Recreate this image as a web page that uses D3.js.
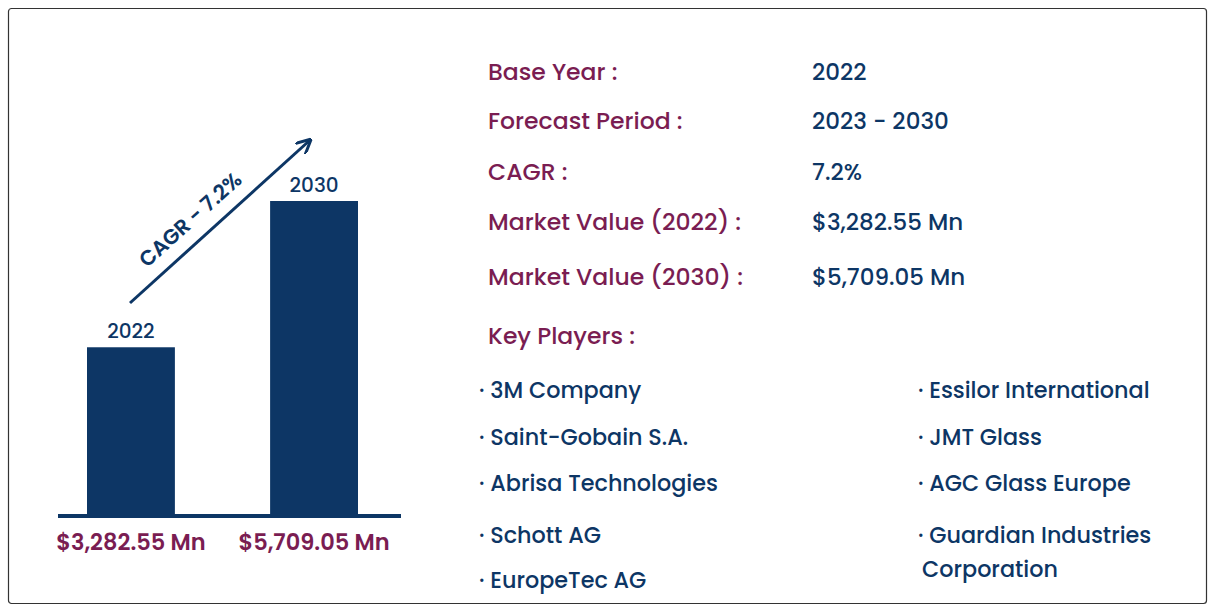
<!DOCTYPE html>
<html><head><meta charset="utf-8">
<script src="https://cdn.jsdelivr.net/npm/d3@7"></script>
<style>body{margin:0;background:#fff}</style>
</head><body><div id="chart"></div>
<script>
var years = ['2022', '2030'];
var values = [3282.55, 5709.05];
var valueLabels = ['$3,282.55 Mn', '$5,709.05 Mn'];
var infoLabels = ['Base Year :', 'Forecast Period :', 'CAGR :', 'Market Value (2022) :', 'Market Value (2030) :'];
var infoValues = ['2022', '2023 - 2030', '7.2%', '$3,282.55 Mn', '$5,709.05 Mn'];
var playersLeft = ['3M Company', 'Saint-Gobain S.A.', 'Abrisa Technologies', 'Schott AG', 'EuropeTec AG'];
var playersRight = ['Essilor International', 'JMT Glass', 'AGC Glass Europe', 'Guardian Industries'];

var navy = '#0d3665', maroon = '#7a1d52';
var font = 'Poppins, "Open Sans", sans-serif';

var svg = d3.select('#chart').append('svg')
    .attr('width', 1215).attr('height', 612)
    .style('font-family', font);

svg.append('rect')
    .attr('x', 8.5).attr('y', 8.5).attr('width', 1198).attr('height', 595)
    .attr('rx', 3).attr('fill', '#fff').attr('stroke', '#333').attr('stroke-width', 1.2);

// Bars
var scaleX = d3.scaleBand().domain(years).range([87, 358]).paddingInner(0.52).paddingOuter(0);
var scaleY = d3.scaleLinear().domain([500, values[1]]).range([515, 201]);

svg.selectAll('.bar').data(values).enter().append('rect')
    .attr('class', 'bar')
    .attr('x', function(d, i) { return scaleX(years[i]); })
    .attr('y', function(d) { return scaleY(d); })
    .attr('width', scaleX.bandwidth())
    .attr('height', function(d) { return 515 - scaleY(d); })
    .attr('fill', navy);

svg.append('line').attr('x1', 58).attr('x2', 401).attr('y1', 516).attr('y2', 516)
    .attr('stroke', navy).attr('stroke-width', 4);

svg.selectAll('.yr').data(values).enter().append('text')
    .attr('x', function(d, i) { return scaleX(years[i]) + scaleX.bandwidth() / 2; })
    .attr('y', function(d) { return scaleY(d) - 9; })
    .attr('text-anchor', 'middle').attr('font-size', 20).attr('font-weight', 500).attr('fill', navy)
    .text(function(d, i) { return years[i]; });

svg.selectAll('.vl').data(values).enter().append('text')
    .attr('x', function(d, i) { return scaleX(years[i]) + scaleX.bandwidth() / 2; })
    .attr('y', 550)
    .attr('text-anchor', 'middle').attr('font-size', 22.5).attr('font-weight', 600).attr('fill', maroon)
    .text(function(d, i) { return valueLabels[i]; });

// Arrow
svg.append('defs').append('marker').attr('id', 'ah')
    .attr('viewBox', '0 0 10 10').attr('refX', 8).attr('refY', 5)
    .attr('markerWidth', 5).attr('markerHeight', 5).attr('orient', 'auto')
    .append('path').attr('d', 'M0,0 L10,5 L0,10').attr('fill', 'none')
    .attr('stroke', navy).attr('stroke-width', 2);
svg.append('line').attr('x1', 130).attr('y1', 303).attr('x2', 309).attr('y2', 141)
    .attr('stroke', navy).attr('stroke-width', 3).attr('marker-end', 'url(#ah)');
svg.append('text').attr('transform', 'translate(195,225) rotate(-42)')
    .attr('text-anchor', 'middle').attr('font-size', 21).attr('font-weight', 600)
    .attr('fill', navy).text('CAGR - 7.2%');

// Info
var rowY = [80, 129, 180, 230, 285];
svg.selectAll('.il').data(infoLabels).enter().append('text')
    .attr('x', 488).attr('y', function(d, i) { return rowY[i]; })
    .attr('font-size', 23.5).attr('font-weight', 500).attr('fill', maroon).text(function(d) { return d; });
svg.selectAll('.iv').data(infoValues).enter().append('text')
    .attr('x', 812).attr('y', function(d, i) { return rowY[i]; })
    .attr('font-size', 23).attr('font-weight', 500).attr('fill', navy).text(function(d) { return d; });
svg.append('text').attr('x', 488).attr('y', 344).attr('font-size', 23.5).attr('font-weight', 500)
    .attr('fill', maroon).text('Key Players :');

var pY = [398, 445, 491, 543, 588];
svg.selectAll('.pl').data(playersLeft).enter().append('text')
    .attr('x', 479).attr('y', function(d, i) { return pY[i]; })
    .attr('font-size', 22.3).attr('font-weight', 500).attr('fill', navy).text(function(d) { return '· ' + d; });
svg.selectAll('.pr').data(playersRight).enter().append('text')
    .attr('x', 918).attr('y', function(d, i) { return pY[i]; })
    .attr('font-size', 22.3).attr('font-weight', 500).attr('fill', navy).text(function(d) { return '· ' + d; });
svg.append('text').attr('x', 922).attr('y', 577).attr('font-size', 22.3).attr('font-weight', 500)
    .attr('fill', navy).text('Corporation');
</script></body></html>
